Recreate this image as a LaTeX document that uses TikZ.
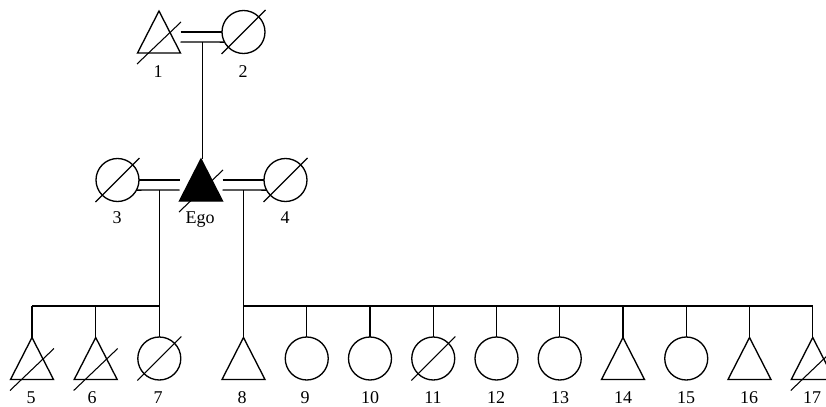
\documentclass[tikz,border=0pt]{standalone}
\usepackage{amsmath}
\usepackage{fontspec}
\setmainfont{Liberation Serif}
\usepackage{tikz}
\usetikzlibrary{positioning}

\tikzset{
  person/.style={inner sep=0pt, outer sep=0pt},
  male/.style={person, rectangle, minimum width=32.25pt, minimum height=31.5pt,
    append after command={\pgfextra{\draw[line width=1pt, fill=#1] (\tikzlastnode.north) -- (\tikzlastnode.south east) -- (\tikzlastnode.south west) -- cycle;}}},
  male/.default=white,
  female/.style={person, circle, minimum size=32.25pt,
    append after command={\pgfextra{\draw[line width=1pt] (\tikzlastnode.center) circle[radius=21.5];}}},
  deadm/.style={append after command={\pgfextra{\draw[line width=0.8pt] ([shift={(-22,32)}]\tikzlastnode.center) -- ([shift={(22,-10)}]\tikzlastnode.center);}}},
  deadf/.style={append after command={\pgfextra{\draw[line width=0.8pt] ([shift={(-22,22)}]\tikzlastnode.center) -- ([shift={(22,-22)}]\tikzlastnode.center);}}},
  lbl/.style={anchor=base, inner sep=0.75pt, font=\fontsize{13.5}{15}\selectfont},
}

\begin{document}
\begin{tikzpicture}[x=0.75pt,y=0.75pt,yscale=-1,xscale=1,line width=1pt]
        \useasboundingbox (0,0) rectangle (826,407);
        \clip (0,0) rectangle (826,407);

        %Generation 1
        \node [male, deadm] (p1) at (159,32) {};
        \node [female, deadf] (p2) at (243.5,32) {};
        %Generation 2
        \node [female, deadf] (p3) at (117.5,180) {};
        \node [male=black, deadm] (ego) at (201,180) {};
        \node [female, deadf] (p4) at (285.5,180) {};
        %Generation 3
        \node [male, deadm] (s5) at (32,358.5) {};
        \node [male, deadm] (s6) at (95.7,358.5) {};
        \node [female, deadf] (s7) at (159.3,358.5) {};
        \node [male] (s8) at (243.5,358.5) {};
        \node [female] (s9) at (306.75,358.5) {};
        \node [female] (s10) at (370,358.5) {};
        \node [female, deadf] (s11) at (433.25,358.5) {};
        \node [female] (s12) at (496.5,358.5) {};
        \node [female] (s13) at (559.75,358.5) {};
        \node [male] (s14) at (623,358.5) {};
        \node [female] (s15) at (686.25,358.5) {};
        \node [male] (s16) at (749.5,358.5) {};
        \node [male, deadm] (s17) at (812.75,358.5) {};

        %Marriage lines
        \draw (p1.east) -- (p2.west) ;
        \draw ([shift={(0,10)}]p1.east) -- coordinate[midway] (m12) (p2.208) ;
        \draw (p3.east) -- (ego.west) ;
        \draw (p3.-28) -- coordinate[midway] (m3) ([shift={(0,10)}]ego.west) ;
        \draw (ego.east) -- (p4.west) ;
        \draw ([shift={(0,10)}]ego.east) -- coordinate[midway] (m4) (p4.208) ;

        %Descent lines
        \coordinate (bar) at (0,306);
        \draw (m12) -- (m12 |- ego.north) ;
        \draw (s7.north |- m3) -- (s7.north) ;
        \draw (s8.north |- m4) -- (s8.north) ;
        \draw (s5.north |- bar) -- (s7.north |- bar) ;
        \draw (s8.north |- bar) -- (s17.north |- bar) ;
        \draw (s5.north) -- (s5.north |- bar) ;
        \draw (s6.north) -- (s6.north |- bar) ;
        \draw (s9.north) -- (s9.north |- bar) ;
        \draw (s10.north) -- (s10.north |- bar) ;
        \draw (s11.north) -- (s11.north |- bar) ;
        \draw (s12.north) -- (s12.north |- bar) ;
        \draw (s13.north) -- (s13.north |- bar) ;
        \draw (s14.north) -- (s14.north |- bar) ;
        \draw (s15.north) -- (s15.north |- bar) ;
        \draw (s16.north) -- (s16.north |- bar) ;
        \draw (s17.north) -- (s17.north |- bar) ;

        % Text Node
        \node [lbl] (l1) at (158,77.3) {1};
        \node [lbl] (l2) at (243,77.3) {2};
        \node [lbl] (l3) at (117,223.3) {3};
        \node [lbl] (lego) at (200,223.3) {Ego};
        \node [lbl] (l4) at (285,223.3) {4};
        \node [lbl] (l5) at (31,403.3) {5};
        \node [lbl] (l6) at (92,403.3) {6};
        \node [lbl] (l7) at (158,403.3) {7};
        \node [lbl] (l8) at (242,403.3) {8};
        \node [lbl] (l9) at (305,403.3) {9};
        \node [lbl] (l10) at (370,403.3) {10};
        \node [lbl] (l11) at (433,403.3) {11};
        \node [lbl] (l12) at (496,403.3) {12};
        \node [lbl] (l13) at (560,403.3) {13};
        \node [lbl] (l14) at (623,403.3) {14};
        \node [lbl] (l15) at (686,403.3) {15};
        \node [lbl] (l16) at (749,403.3) {16};
        \node [lbl] (l17) at (812,403.3) {17};

    \end{tikzpicture}
\end{document}
